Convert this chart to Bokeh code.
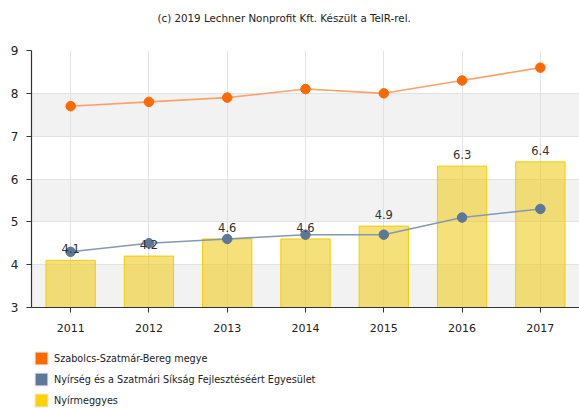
from bokeh.plotting import figure
from bokeh.layouts import column
from bokeh.core.properties import value
from bokeh.models import (FactorRange, FixedTicker, Legend, LegendItem, LabelSet,
                          ColumnDataSource, Title, BoxAnnotation)
from bokeh.embed import file_html
from bokeh.resources import INLINE

years = ["2011", "2012", "2013", "2014", "2015", "2016", "2017"]
megye = [7.7, 7.8, 7.9, 8.1, 8.0, 8.3, 8.6]
egyesulet = [4.3, 4.5, 4.6, 4.7, 4.7, 5.1, 5.3]
nyirmeggyes = [4.1, 4.2, 4.6, 4.6, 4.9, 6.3, 6.4]
y_ticks = [3, 4, 5, 6, 7, 8, 9]
names = ["Szabolcs-Szatmár-Bereg megye",
         "Nyírség és a Szatmári Síkság Fejlesztéséért Egyesület",
         "Nyírmeggyes"]
title_text = "(c) 2019 Lechner Nonprofit Kft. Készült a TeIR-rel."

FONT = "DejaVu Sans"
ORANGE = "#ff6a00"
BLUE = "#5b7899"
YELLOW = "#ffd200"
NAN = float("nan")

p = figure(x_range=FactorRange(*years), y_range=(3, 9),
           width=579, height=340, output_backend="svg",
           toolbar_location=None,
           min_border_left=31, min_border_right=0, min_border_top=10,
           min_border_bottom=33)
p.outline_line_color = None

# spacer between title and frame
p.add_layout(Title(text=" ", text_font_size="1px", standoff=14), "above")
p.title = Title(text=title_text, text_font=FONT, text_font_size="10.3px",
                text_font_style="normal", text_color="#222", align="left",
                offset=126, standoff=19)

# alternating horizontal bands (3-4, 5-6, 7-8)
for lo in y_ticks[:-1:2]:
    p.add_layout(BoxAnnotation(bottom=lo, top=lo + 1, fill_color="#f2f2f2",
                               fill_alpha=1.0, line_color=None, level="image"))

src = ColumnDataSource(dict(x=years, a=megye, b=egyesulet, c=nyirmeggyes,
                            lbl=[f"{v:.1f}" for v in nyirmeggyes]))

p.vbar(x="x", top="c", bottom=3, width=0.63, source=src,
       fill_color="#F0CC20", fill_alpha=0.6, line_color="#F5CC00", line_width=1)

p.line(x="x", y="b", source=src, line_color="#8399b4", line_width=1.6)
p.scatter(x="x", y="b", source=src, size=9.5, fill_color=BLUE, line_color=BLUE)
p.line(x="x", y="a", source=src, line_color="#ffa066", line_width=1.6)
p.scatter(x="x", y="a", source=src, size=9.5, fill_color=ORANGE, line_color=ORANGE)

labels = LabelSet(x="x", y="c", text="lbl", source=src, text_align="center",
                  text_baseline="bottom", y_offset=7, text_font=value(FONT),
                  text_font_size=value("11.5px"), text_color="#333")
p.add_layout(labels)

# axes
p.yaxis.ticker = FixedTicker(ticks=y_ticks)
for ax in (p.xaxis, p.yaxis):
    ax.axis_line_color = "#333"
    ax.axis_line_width = 1.2
    ax.major_tick_line_color = "#333"
    ax.major_tick_out = 5
    ax.major_tick_in = 0
    ax.minor_tick_line_color = None
    ax.major_label_text_font = FONT
    ax.major_label_text_color = "#222"
p.yaxis.major_label_text_font_size = "12px"
p.xaxis.major_label_text_font_size = "11px"
p.yaxis.major_label_standoff = 8
p.xaxis.major_label_standoff = 11

p.ygrid.ticker = FixedTicker(ticks=y_ticks)
p.ygrid.grid_line_color = "#e2e2e2"
p.xgrid.grid_line_color = "#e2e2e2"

# legend in its own strip below the chart (frame aligned with the chart frame)
lg = figure(width=579, height=68, output_backend="svg", toolbar_location=None,
            x_range=(0, 1), y_range=(0, 1), x_axis_type=None, y_axis_type=None,
            min_border=0)
lg.outline_line_color = None
lg.grid.visible = False
swatches = []
for col in (ORANGE, BLUE, YELLOW):
    swatches.append(lg.vbar(x=[NAN], top=[NAN], width=0.1, fill_color=col,
                            line_color="#e4e4e4"))
legend = Legend(items=[LegendItem(label=n, renderers=[r])
                       for n, r in zip(names, swatches)],
                location=(2, 0), orientation="vertical",
                glyph_width=16, glyph_height=16, spacing=5, padding=0,
                margin=0, label_standoff=5, label_text_font=FONT,
                label_text_font_size="9.7px", label_text_color="#222",
                border_line_alpha=0, background_fill_alpha=0,
                label_height=16)
lg.add_layout(legend)

layout = column(p, lg, spacing=0)
open("out.html", "w").write(file_html(layout, INLINE))
